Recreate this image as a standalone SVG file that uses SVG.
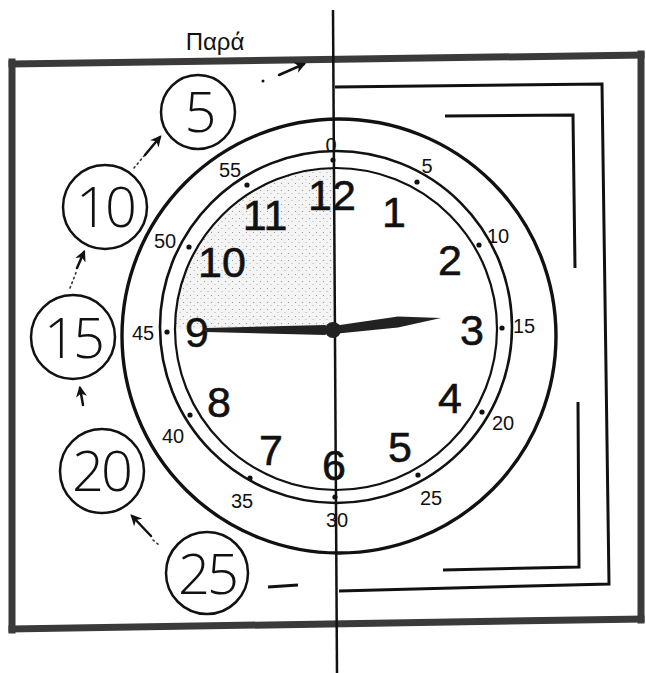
<svg xmlns="http://www.w3.org/2000/svg" width="646" height="673" viewBox="0 0 646 673">
<defs>
  <style>
    .frame{fill:none;stroke:#3a3a3a;stroke-width:7;stroke-linecap:square}
    .bracket{fill:none;stroke:#111;stroke-width:3;stroke-linejoin:miter}
    .ring{fill:none;stroke:#111}
    .hour{font-family:"Liberation Sans",Arial,sans-serif;font-size:43px;fill:#111;stroke:#111;stroke-width:0.6;text-anchor:middle}
    .min{font-family:"Liberation Sans",Arial,sans-serif;font-size:20px;fill:#111;text-anchor:middle}
    .circ{fill:#fff;stroke:#111;stroke-width:2.5}
    .cnum{font-family:"Open Sans","Liberation Sans",Arial,sans-serif;font-weight:300;font-size:56px;fill:#111;text-anchor:middle;letter-spacing:-3px}
    .arrow{fill:none;stroke:#111;stroke-width:2.5;stroke-linecap:round;marker-end:url(#ah)}
    .dots{fill:none;stroke:#333;stroke-width:1.6;stroke-dasharray:1.5 3.5;stroke-linecap:round}
    .tick{fill:#111}
  </style>
  <marker id="ah" viewBox="0 0 10 10" refX="8" refY="5" markerWidth="4.5" markerHeight="4.5" orient="auto">
    <path d="M0,0 L10,5 L0,10 L3,5 Z" fill="#111"/>
  </marker>
  <pattern id="stip" width="7" height="7" patternUnits="userSpaceOnUse">
    <rect width="7" height="7" fill="#f4f4f4"/>
    <circle cx="1.5" cy="1.5" r="0.6" fill="#888"/>
    <circle cx="5" cy="4.5" r="0.5" fill="#999"/>
  </pattern>
</defs>

<g id="frame">
  <path class="frame" d="M12,64 L641,55"/>
  <path class="frame" d="M12,629 L641,619"/>
  <path class="frame" d="M12,62 L12,630"/>
  <path class="frame" d="M641,54 L641,620"/>
</g>

<g id="brackets">
  <path class="bracket" d="M335,87 L602,84 L609,584 L339,591"/>
  <path class="bracket" d="M445,116 L573,115 L575,268"/>
  <path class="bracket" d="M578,402 L579,567 L443,570"/>
  <path d="M268,587 L298,585" stroke="#111" stroke-width="3"/>
</g>

<g id="title">
  <text x="215" y="50" font-family="'Liberation Sans',Arial,sans-serif" font-size="24" fill="#111" text-anchor="middle">Παρά</text>
</g>

<g id="clock">
  <circle class="ring" cx="339" cy="336" r="217" stroke="#222" stroke-width="3.4"/>
  <path d="M333,329 L333,168 A161,161 0 0 0 175,329 Z" fill="url(#stip)"/>
  <circle class="ring" cx="336" cy="327" r="176" stroke-width="2.6"/>
  <circle class="ring" cx="336" cy="329" r="161" stroke-width="2.2"/>
  <g id="minute-dots">
    <circle class="tick" cx="333" cy="160" r="2.6"/>
    <circle class="tick" cx="417" cy="182" r="2.6"/>
    <circle class="tick" cx="479" cy="245" r="2.6"/>
    <circle class="tick" cx="502" cy="328" r="2.6"/>
    <circle class="tick" cx="482" cy="412" r="2.6"/>
    <circle class="tick" cx="418" cy="475" r="2.6"/>
    <circle class="tick" cx="335" cy="497" r="2.6"/>
    <circle class="tick" cx="250" cy="478" r="2.6"/>
    <circle class="tick" cx="190" cy="415" r="2.6"/>
    <circle class="tick" cx="167" cy="332" r="2.6"/>
    <circle class="tick" cx="189" cy="247" r="2.6"/>
    <circle class="tick" cx="247" cy="185" r="2.6"/>
  </g>
  <g id="minute-labels">
    <text class="min" x="331" y="152">0</text>
    <text class="min" x="427" y="173">5</text>
    <text class="min" x="498" y="243">10</text>
    <text class="min" x="524" y="333">15</text>
    <text class="min" x="503" y="430">20</text>
    <text class="min" x="431" y="505">25</text>
    <text class="min" x="337" y="527">30</text>
    <text class="min" x="242" y="508">35</text>
    <text class="min" x="173" y="443">40</text>
    <text class="min" x="143" y="340">45</text>
    <text class="min" x="165" y="248">50</text>
    <text class="min" x="230" y="177">55</text>
  </g>
  <g id="hour-labels">
    <text class="hour" x="332" y="210">12</text>
    <text class="hour" x="394" y="227">1</text>
    <text class="hour" x="450" y="275">2</text>
    <text class="hour" x="472" y="345">3</text>
    <text class="hour" x="450" y="413">4</text>
    <text class="hour" x="400" y="462">5</text>
    <text class="hour" x="334" y="480">6</text>
    <text class="hour" x="271" y="465">7</text>
    <text class="hour" x="219" y="417">8</text>
    <text class="hour" x="197" y="347">9</text>
    <text class="hour" x="222" y="277">10</text>
    <text class="hour" x="265" y="230">11</text>
  </g>
</g>

<g id="axis">
  <path d="M333,10 L337,673" stroke="#111" stroke-width="2.5"/>
</g>

<g id="hands">
  <path d="M203,330 L206,328 L325,325 L333,330 L325,335 L206,332 Z" fill="#222"/>
  <path d="M333,326 L398,316.5 L441,318 L398,327.5 L333,334 Z" fill="#222"/>
  <circle cx="333" cy="330" r="8" fill="#222"/>
</g>

<g id="n5"><circle class="circ" cx="198" cy="112" r="37"/><text class="cnum" x="199" y="132">5</text></g>
<g id="n10"><circle class="circ" cx="105" cy="207" r="42"/><text class="cnum" x="105" y="227">10</text></g>
<g id="n15"><circle class="circ" cx="73" cy="337" r="42"/><text class="cnum" x="73" y="358">15</text></g>
<g id="n20"><circle class="circ" cx="102" cy="471" r="42"/><text class="cnum" x="101" y="491">20</text></g>
<g id="n25"><circle class="circ" cx="207" cy="573" r="41"/><text class="cnum" x="207" y="594" font-weight="400">25</text></g>

<g id="connectors">
  <circle cx="263" cy="81" r="1.5" fill="#111"/>
  <path class="arrow" d="M279,75 L304,64"/>
  <path class="dots" d="M134,168 L144,156"/>
  <path class="arrow" d="M145,155 L160,137"/>
  <path class="dots" d="M70,288 L77,270"/>
  <path class="arrow" d="M77,268 L84,252"/>
  <path class="arrow" d="M83,405 L80,388"/>
  <path class="arrow" d="M151,536 L132,516"/>
  <path class="dots" d="M153,540 L160,546"/>
</g>
</svg>
